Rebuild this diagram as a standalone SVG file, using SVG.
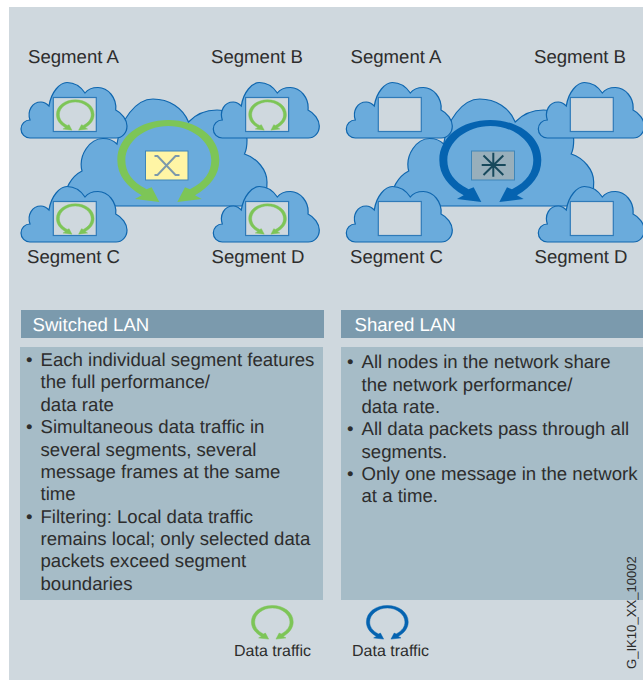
<svg xmlns="http://www.w3.org/2000/svg" width="643" height="680" viewBox="0 0 643 680">
<style>
text{font-family:"Liberation Sans",Arial,sans-serif;fill:#2d2d2d;text-rendering:geometricPrecision}
.seg{font-size:18.6px}
.body{font-size:18.6px}
.head{font-size:18.6px;fill:#fff}
.leg{font-size:16px}
.cloud{fill:#6aabdc;stroke:#0f66ae;stroke-width:1.2}
.win{fill:#cfd8de;stroke:#2f7ab8;stroke-width:1.2}
.grn{fill:#7dc557}
.blu{fill:#0563b0}
.sm{stroke:#7dc557;stroke-width:3.500}
</style>
<defs>
<path id="cs" d="M30 138 C25 138 21 134 21 129 C21 124 25 120 30 120 C27 111 32 102 41 102 C44 102 47 104 49 106 C51 92 60 82.500 67 82.500 C75 82.500 81 87 85 93 C88 89 93 87.500 98 87.500 C108 87.500 117 98 115.700 110 C122 113 127 120 127 126 C127 133 122 138 116 138 Z"/>
<path id="cb" d="M63 206 C64 188 72 176 82 171 C78 155 90 138.500 103 138.500 C109 138.500 114 141 117 144 C120 120 136 99 153 99 C169 99 183 108 188.500 122 C196 114 206 110 217 110 C233 110 247 122 247 140 C247 145 246.500 150 244.500 154 C257 158 267 170 267 182 C267 190 266 199 263 206 Z"/>
<path id="ring" transform="scale(.3333)" d="M478 606 L405 597 L425 586 C380 560 352 525 352 480 C352 410 420 360 505 360 C590 360 658 410 658 480 C658 525 630 560 585 586 L605 597 L532 606 L555 562 L570 568 C615 545 634 515 634 480 C634 425 575 378 505 378 C435 378 376 425 376 480 C376 515 395 545 440 568 L455 562 Z"/>
</defs>
<rect width="643" height="680" fill="#fff"/>
<rect x="9" y="7" width="634" height="673" fill="#cfd8de"/>

<g id="switched-network">
<use href="#cb" class="cloud"/>
<g id="sw-seg-a"><use href="#cs" class="cloud"/><rect class="win" x="53.300" y="97.500" width="43" height="34"/><use href="#ring" class="grn sm" transform="translate(13 55.400) scale(.37)"/></g>
<g id="sw-seg-b" transform="translate(192.300 0)"><use href="#cs" class="cloud"/><rect class="win" x="53.300" y="97.500" width="43" height="34"/><use href="#ring" class="grn sm" transform="translate(13 55.400) scale(.37)"/></g>
<g id="sw-seg-c" transform="translate(0 104)"><use href="#cs" class="cloud"/><rect class="win" x="53.300" y="97.500" width="43" height="34"/><use href="#ring" class="grn sm" transform="translate(13 55.400) scale(.37)"/></g>
<g id="sw-seg-d" transform="translate(192.300 104)"><use href="#cs" class="cloud"/><rect class="win" x="53.300" y="97.500" width="43" height="34"/><use href="#ring" class="grn sm" transform="translate(13 55.400) scale(.37)"/></g>
<use href="#ring" class="grn"/>
<g id="switch">
<rect x="145.500" y="151" width="42.500" height="29" fill="#fff5a5" stroke="#3f86b8" stroke-width="1"/>
<path d="M154.500 156 H157.500 L175.500 175 H179.500 M154.500 175 H157.500 L175.500 156 H179.500" fill="none" stroke="#7c99ab" stroke-width="2"/>
</g>
</g>

<g id="shared-network">
<use href="#cb" class="cloud" transform="translate(326.700 0)"/>
<g id="sh-seg-a" transform="translate(325.300 0)"><use href="#cs" class="cloud"/><rect class="win" x="53" y="97.500" width="43" height="34"/></g>
<g id="sh-seg-b" transform="translate(517.300 0)"><use href="#cs" class="cloud"/><rect class="win" x="53" y="97.500" width="43" height="34"/></g>
<g id="sh-seg-c" transform="translate(325.300 104)"><use href="#cs" class="cloud"/><rect class="win" x="53" y="97.500" width="43" height="34"/></g>
<g id="sh-seg-d" transform="translate(517.300 104)"><use href="#cs" class="cloud"/><rect class="win" x="53" y="97.500" width="43" height="34"/></g>
<use href="#ring" class="blu" transform="translate(322 0)"/>
<g id="hub">
<rect x="471.500" y="151" width="43" height="29" fill="#98afbb" stroke="#3f86b8" stroke-width="1"/>
<path d="M493.300 152.700 V176.700 M481.700 165 H505.700 M483.500 155.500 L503.300 175 M483.500 175 L503.300 155.500" fill="none" stroke="#17495c" stroke-width="2"/>
</g>
</g>

<g id="segment-labels">
<text class="seg" x="28" y="63">Segment A</text><text class="seg" x="211" y="63">Segment B</text>
<text class="seg" x="27" y="263">Segment C</text><text class="seg" x="211.500" y="263">Segment D</text>
<text class="seg" x="350.500" y="63">Segment A</text><text class="seg" x="534" y="63">Segment B</text>
<text class="seg" x="350" y="263">Segment C</text><text class="seg" x="534.500" y="263">Segment D</text>
</g>

<g id="switched-panel">
<rect x="21" y="310" width="303" height="28" fill="#7b9aad"/>
<rect x="20" y="347" width="303" height="253" fill="#a6bcc7"/>
<text class="head" x="32.500" y="331">Switched LAN</text>
<text class="body" x="26" y="365.700">•</text><text class="body" x="40.500" y="365.700">Each individual segment features</text>
<text class="body" x="40.500" y="388">the full performance/</text>
<text class="body" x="40.500" y="410.700">data rate</text>
<text class="body" x="26" y="433">•</text><text class="body" x="40.500" y="433">Simultaneous data traffic in</text>
<text class="body" x="40.500" y="455.700">several segments, several</text>
<text class="body" x="40.500" y="478">message frames at the same</text>
<text class="body" x="40.500" y="500">time</text>
<text class="body" x="26" y="522.700">•</text><text class="body" x="40.500" y="522.700">Filtering: Local data traffic</text>
<text class="body" x="40.500" y="545">remains local; only selected data</text>
<text class="body" x="40.500" y="567.300">packets exceed segment</text>
<text class="body" x="40.500" y="590">boundaries</text>
</g>

<g id="shared-panel">
<rect x="341" y="310" width="302" height="28" fill="#7b9aad"/>
<rect x="341" y="347" width="302" height="253" fill="#a6bcc7"/>
<text class="head" x="354.500" y="331">Shared LAN</text>
<text class="body" x="347" y="368">•</text><text class="body" x="361.500" y="368">All nodes in the network share</text>
<text class="body" x="361.500" y="390.700">the network performance/</text>
<text class="body" x="361.500" y="412.700">data rate.</text>
<text class="body" x="347" y="435">•</text><text class="body" x="361.500" y="435">All data packets pass through all</text>
<text class="body" x="361.500" y="457.700">segments.</text>
<text class="body" x="347" y="480">•</text><text class="body" x="361.500" y="480">Only one message in the network</text>
<text class="body" x="361.500" y="502">at a time.</text>
</g>

<g id="legend">
<use href="#ring" class="grn sm" transform="translate(203.300 556.300) scale(.41)"/>
<text class="leg" x="234" y="656">Data traffic</text>
<use href="#ring" class="blu sm" style="stroke:#0563b0" transform="translate(318.300 556.300) scale(.41)"/>
<text class="leg" x="352" y="656">Data traffic</text>
</g>
<text id="figure-id" transform="translate(636 669) rotate(-90)" font-size="13.100">G_IK10_XX_10002</text>
</svg>
